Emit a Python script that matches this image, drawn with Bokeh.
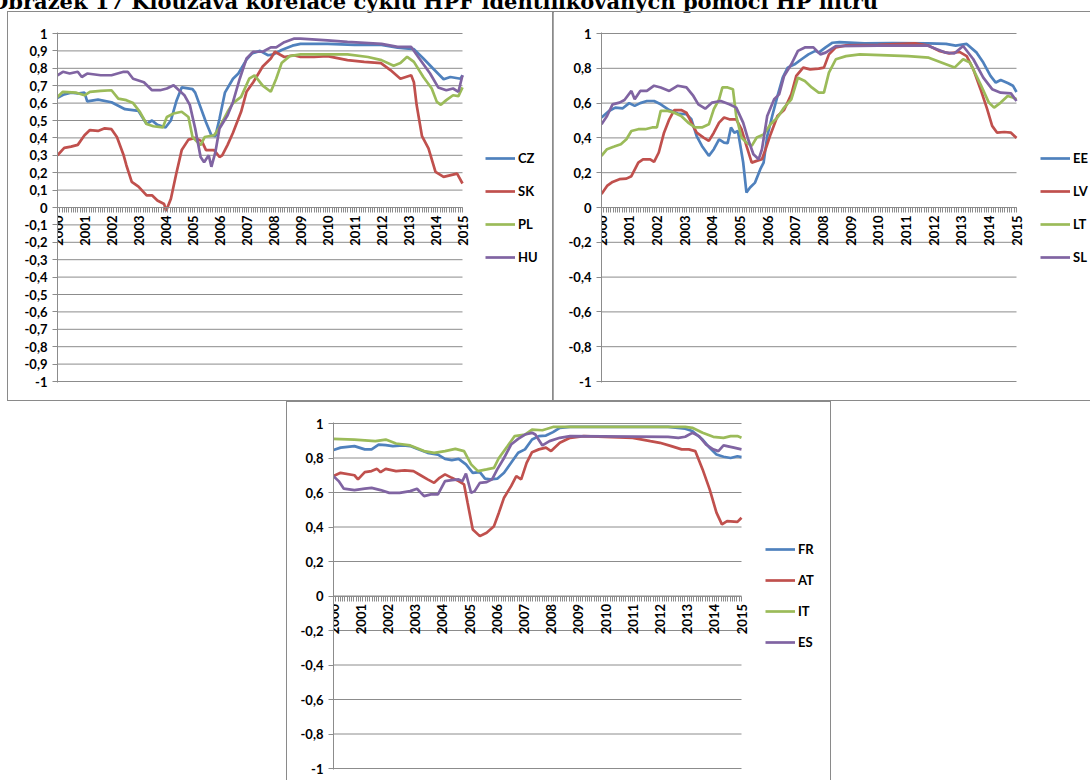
import numpy as np
from bokeh.plotting import figure
from bokeh.models import Range1d, FixedTicker, Legend, LegendItem, Div, Spacer
from bokeh.layouts import column, row
from bokeh.embed import file_html
from bokeh.resources import INLINE

TITLE = "Obrázek 17 Klouzavá korelace cyklu HPF identifikovaných pomocí HP filtru"

YEARS = list(range(2000, 2016))
YEAR_LABELS = [str(y) for y in YEARS]
Y_TICKS_A = [1, 0.9, 0.8, 0.7, 0.6, 0.5, 0.4, 0.3, 0.2, 0.1, 0, -0.1, -0.2, -0.3, -0.4, -0.5, -0.6, -0.7, -0.8, -0.9, -1]
Y_LABELS_A = ["1", "0,9", "0,8", "0,7", "0,6", "0,5", "0,4", "0,3", "0,2", "0,1", "0", "-0,1", "-0,2", "-0,3", "-0,4",
              "-0,5", "-0,6", "-0,7", "-0,8", "-0,9", "-1"]
Y_TICKS_B = [1, 0.8, 0.6, 0.4, 0.2, 0, -0.2, -0.4, -0.6, -0.8, -1]
Y_LABELS_B = ["1", "0,8", "0,6", "0,4", "0,2", "0", "-0,2", "-0,4", "-0,6", "-0,8", "-1"]

COLORS = ["#4F81BD", "#C0504D", "#9BBB59", "#8064A2"]

# ---------------- panel 1 ----------------
CZ_t = [2000.0, 2000.25, 2000.5, 2000.75, 2001.0, 2001.1, 2001.5, 2002.0, 2002.5, 2003.0, 2003.3, 2003.5, 2003.7,
        2004.0, 2004.2, 2004.4, 2004.6, 2005.0, 2005.1, 2005.5, 2005.7, 2005.85, 2006.0, 2006.2, 2006.5, 2006.7,
        2007.0, 2007.2, 2007.5, 2007.8, 2008.0, 2008.3, 2008.7, 2009.0, 2010.0, 2011.0, 2012.0, 2012.6, 2013.2,
        2013.55, 2013.9, 2014.3, 2014.55, 2014.93, 2015.0]
CZ_v = [0.63, 0.65, 0.66, 0.655, 0.66, 0.61, 0.62, 0.605, 0.565, 0.555, 0.48, 0.50, 0.475,
        0.46, 0.50, 0.61, 0.69, 0.68, 0.66, 0.49, 0.415, 0.41, 0.51, 0.66, 0.74, 0.77,
        0.85, 0.885, 0.90, 0.875, 0.88, 0.905, 0.93, 0.94, 0.94, 0.935, 0.935, 0.918, 0.91,
        0.856, 0.80, 0.737, 0.75, 0.74, 0.76]

SK_t = [2000.0, 2000.25, 2000.5, 2000.75, 2001.0, 2001.2, 2001.5, 2001.75, 2002.0, 2002.2, 2002.45, 2002.55, 2002.75,
        2003.0, 2003.3, 2003.5, 2003.7, 2003.95, 2004.02, 2004.2, 2004.4, 2004.6, 2004.85, 2005.1, 2005.35, 2005.5,
        2005.8, 2006.0, 2006.1, 2006.3, 2006.5, 2006.8, 2007.0, 2007.25, 2007.6, 2007.9, 2008.05, 2008.4, 2008.75,
        2009.0, 2009.5, 2010.0, 2010.74, 2011.36, 2011.98, 2012.33, 2012.7, 2013.1, 2013.2, 2013.3, 2013.5, 2013.74,
        2014.0, 2014.3, 2014.8, 2015.0]
SK_v = [0.30, 0.343, 0.35, 0.36, 0.415, 0.445, 0.44, 0.455, 0.45, 0.405, 0.30, 0.243, 0.147,
        0.12, 0.07, 0.07, 0.04, 0.02, -0.02, 0.05, 0.195, 0.33, 0.39, 0.40, 0.38, 0.33,
        0.33, 0.29, 0.30, 0.36, 0.43, 0.55, 0.665, 0.72, 0.81, 0.856, 0.895, 0.865, 0.875,
        0.865, 0.865, 0.87, 0.847, 0.837, 0.83, 0.79, 0.74, 0.76, 0.72, 0.59, 0.41, 0.34,
        0.205, 0.176, 0.195, 0.138]

PL_t = [2000.0, 2000.2, 2000.7, 2001.0, 2001.2, 2001.6, 2002.0, 2002.25, 2002.55, 2002.8, 2003.05, 2003.3, 2003.55,
        2003.9, 2004.05, 2004.3, 2004.6, 2004.85, 2005.0, 2005.3, 2005.45, 2005.8, 2006.0, 2006.3, 2006.5, 2006.8,
        2007.1, 2007.3, 2007.6, 2007.9, 2008.1, 2008.3, 2008.6, 2009.0, 2010.74, 2011.5, 2012.0, 2012.45, 2012.7,
        2012.95, 2013.2, 2013.55, 2013.86, 2014.05, 2014.2, 2014.4, 2014.65, 2014.85, 2015.0]
PL_v = [0.635, 0.665, 0.66, 0.645, 0.665, 0.67, 0.674, 0.626, 0.617, 0.60, 0.55, 0.48, 0.467,
        0.46, 0.52, 0.54, 0.55, 0.52, 0.405, 0.358, 0.405, 0.415, 0.46, 0.55, 0.60, 0.636,
        0.74, 0.76, 0.70, 0.665, 0.74, 0.83, 0.87, 0.88, 0.88, 0.865, 0.847, 0.815, 0.83,
        0.866, 0.837, 0.75, 0.684, 0.607, 0.59, 0.617, 0.645, 0.64, 0.69]

HU_t = [2000.0, 2000.2, 2000.45, 2000.75, 2000.9, 2001.1, 2001.6, 2002.0, 2002.45, 2002.6, 2002.8, 2003.2, 2003.5,
        2003.8, 2004.05, 2004.3, 2004.5, 2004.7, 2004.9, 2005.1, 2005.3, 2005.43, 2005.6, 2005.7, 2005.85, 2006.0,
        2006.3, 2006.5, 2006.75, 2007.0, 2007.25, 2007.6, 2007.9, 2008.1, 2008.4, 2008.75, 2009.0, 2010.0, 2010.74,
        2012.0, 2012.6, 2013.1, 2013.4, 2013.8, 2014.1, 2014.4, 2014.65, 2014.85, 2015.0]
HU_v = [0.76, 0.78, 0.77, 0.78, 0.75, 0.77, 0.76, 0.76, 0.78, 0.78, 0.74, 0.72, 0.674,
        0.674, 0.684, 0.703, 0.674, 0.645, 0.59, 0.454, 0.29, 0.26, 0.30, 0.234, 0.32, 0.454,
        0.53, 0.607, 0.74, 0.856, 0.895, 0.895, 0.92, 0.92, 0.95, 0.97, 0.97, 0.96, 0.952,
        0.94, 0.923, 0.923, 0.856, 0.77, 0.69, 0.674, 0.684, 0.665, 0.76]

# ---------------- panel 2 ----------------
EE_t = [2000.0, 2000.27, 2000.5, 2000.77, 2001.0, 2001.2, 2001.4, 2001.64, 2001.9, 2002.14, 2002.45, 2002.76, 2003.07,
        2003.25, 2003.44, 2003.63, 2003.88, 2004.06, 2004.25, 2004.43, 2004.56, 2004.68, 2004.8, 2004.93, 2005.12,
        2005.24, 2005.37, 2005.55, 2005.74, 2005.86, 2005.99, 2006.17, 2006.36, 2006.55, 2006.73, 2006.98, 2007.23,
        2007.48, 2007.73, 2007.85, 2008.1, 2008.35, 2008.6, 2009.5, 2010.5, 2011.8, 2012.45, 2012.8, 2013.2, 2013.56,
        2013.8, 2014.06, 2014.25, 2014.43, 2014.7, 2014.87, 2015.0]
EE_v = [0.517, 0.555, 0.574, 0.57, 0.60, 0.584, 0.60, 0.612, 0.612, 0.593, 0.56, 0.54, 0.536,
        0.507, 0.41, 0.354, 0.297, 0.335, 0.392, 0.373, 0.37, 0.46, 0.43, 0.44, 0.26,
        0.086, 0.115, 0.143, 0.22, 0.258, 0.41, 0.526, 0.64, 0.746, 0.804, 0.823, 0.852,
        0.88, 0.90, 0.89, 0.92, 0.947, 0.95, 0.943, 0.945, 0.943, 0.94, 0.93, 0.94, 0.89,
        0.833, 0.756, 0.718, 0.733, 0.714, 0.70, 0.664]

LV_t = [2000.0, 2000.2, 2000.4, 2000.65, 2000.9, 2001.08, 2001.33, 2001.5, 2001.76, 2001.9, 2002.07, 2002.26, 2002.45,
        2002.63, 2002.88, 2003.07, 2003.25, 2003.44, 2003.69, 2003.88, 2004.06, 2004.25, 2004.43, 2004.62, 2004.87,
        2005.06, 2005.24, 2005.43, 2005.61, 2005.8, 2005.93, 2006.11, 2006.36, 2006.6, 2006.86, 2007.04, 2007.29,
        2007.54, 2007.85, 2008.04, 2008.22, 2008.47, 2008.84, 2010.0, 2011.33, 2011.83, 2012.2, 2012.57, 2012.94,
        2013.2, 2013.44, 2013.7, 2013.94, 2014.12, 2014.3, 2014.56, 2014.8, 2015.0]
LV_v = [0.077, 0.124, 0.147, 0.163, 0.166, 0.18, 0.258, 0.277, 0.277, 0.262, 0.316, 0.43, 0.507,
        0.56, 0.56, 0.545, 0.488, 0.43, 0.402, 0.383, 0.43, 0.488, 0.517, 0.507, 0.507,
        0.45, 0.354, 0.258, 0.268, 0.277, 0.335, 0.42, 0.526, 0.56, 0.65, 0.756, 0.804,
        0.794, 0.798, 0.804, 0.88, 0.92, 0.932, 0.935, 0.943, 0.93, 0.90, 0.886, 0.894,
        0.87, 0.794, 0.68, 0.565, 0.469, 0.43, 0.434, 0.43, 0.40]

LT_t = [2000.0, 2000.2, 2000.46, 2000.7, 2000.9, 2001.08, 2001.33, 2001.58, 2001.83, 2002.0, 2002.14, 2002.39, 2002.63,
        2002.88, 2003.13, 2003.38, 2003.63, 2003.88, 2004.06, 2004.25, 2004.37, 2004.56, 2004.75, 2004.87, 2005.06,
        2005.24, 2005.43, 2005.61, 2005.86, 2006.11, 2006.36, 2006.6, 2006.86, 2007.1, 2007.35, 2007.6, 2007.85,
        2008.04, 2008.22, 2008.47, 2008.84, 2009.34, 2011.08, 2011.83, 2012.45, 2012.76, 2013.07, 2013.32, 2013.7,
        2014.0, 2014.19, 2014.43, 2014.68, 2014.87, 2015.0]
LT_v = [0.297, 0.335, 0.35, 0.364, 0.392, 0.44, 0.45, 0.45, 0.46, 0.46, 0.555, 0.555, 0.545,
        0.526, 0.488, 0.46, 0.46, 0.478, 0.565, 0.622, 0.69, 0.69, 0.68, 0.526, 0.402,
        0.373, 0.354, 0.402, 0.42, 0.478, 0.517, 0.574, 0.622, 0.746, 0.727, 0.69, 0.66,
        0.66, 0.775, 0.852, 0.87, 0.88, 0.87, 0.861, 0.823, 0.804, 0.852, 0.833, 0.708,
        0.603, 0.574, 0.603, 0.641, 0.632, 0.622]

SL_t = [2000.0, 2000.2, 2000.4, 2000.65, 2000.83, 2001.08, 2001.2, 2001.4, 2001.64, 2001.9, 2002.14, 2002.45, 2002.76,
        2003.07, 2003.32, 2003.5, 2003.75, 2004.0, 2004.31, 2004.62, 2004.87, 2005.12, 2005.3, 2005.49, 2005.68,
        2005.8, 2005.99, 2006.24, 2006.42, 2006.6, 2006.86, 2007.1, 2007.35, 2007.66, 2007.91, 2008.1, 2008.47,
        2010.0, 2011.8, 2012.45, 2012.76, 2013.07, 2013.44, 2013.8, 2014.12, 2014.43, 2014.8, 2015.0]
SL_v = [0.478, 0.526, 0.593, 0.603, 0.618, 0.67, 0.622, 0.67, 0.67, 0.70, 0.69, 0.67, 0.70,
        0.69, 0.641, 0.593, 0.568, 0.603, 0.612, 0.593, 0.574, 0.488, 0.392, 0.306, 0.277,
        0.335, 0.526, 0.622, 0.65, 0.756, 0.823, 0.90, 0.92, 0.92, 0.88, 0.89, 0.928,
        0.93, 0.93, 0.89, 0.886, 0.928, 0.852, 0.746, 0.68, 0.66, 0.656, 0.612]

# ---------------- panel 3 ----------------
FR_t = [2000.0, 2000.26, 2000.77, 2001.15, 2001.4, 2001.66, 2001.92, 2002.18, 2002.56, 2002.82, 2003.07, 2003.46,
        2003.84, 2004.1, 2004.35, 2004.6, 2004.87, 2005.12, 2005.38, 2005.57, 2005.76, 2006.02, 2006.27, 2006.53,
        2006.79, 2007.04, 2007.3, 2007.55, 2007.81, 2008.07, 2008.32, 2008.7, 2012.3, 2012.93, 2013.19, 2013.57,
        2013.83, 2014.08, 2014.34, 2014.6, 2014.85, 2015.0]
FR_v = [0.846, 0.86, 0.869, 0.85, 0.85, 0.878, 0.875, 0.869, 0.873, 0.869, 0.853, 0.83,
        0.82, 0.795, 0.788, 0.795, 0.763, 0.714, 0.718, 0.68, 0.676, 0.68, 0.714, 0.772,
        0.83, 0.85, 0.907, 0.927, 0.93, 0.95, 0.975, 0.98, 0.98, 0.97, 0.956, 0.907,
        0.859, 0.82, 0.807, 0.80, 0.81, 0.805]

AT_t = [2000.0, 2000.26, 2000.77, 2000.9, 2001.15, 2001.4, 2001.6, 2001.73, 2001.92, 2002.3, 2002.62, 2002.94, 2003.2,
        2003.46, 2003.7, 2003.9, 2004.1, 2004.35, 2004.6, 2004.8, 2004.93, 2005.12, 2005.38, 2005.63, 2005.9, 2006.08,
        2006.27, 2006.53, 2006.72, 2006.9, 2007.1, 2007.3, 2007.55, 2007.81, 2008.0, 2008.32, 2008.7, 2009.2, 2011.0,
        2011.65, 2012.0, 2012.42, 2012.8, 2013.06, 2013.3, 2013.57, 2013.83, 2014.08, 2014.28, 2014.47, 2014.85, 2015.0]
AT_v = [0.695, 0.714, 0.70, 0.676, 0.718, 0.724, 0.737, 0.718, 0.737, 0.724, 0.728, 0.724, 0.70,
        0.676, 0.656, 0.685, 0.705, 0.685, 0.666, 0.647, 0.54, 0.386, 0.347, 0.367, 0.405, 0.483,
        0.57, 0.637, 0.695, 0.676, 0.772, 0.834, 0.85, 0.86, 0.84, 0.888, 0.917, 0.927, 0.917,
        0.898, 0.888, 0.869, 0.85, 0.85, 0.84, 0.734, 0.618, 0.483, 0.415, 0.434, 0.43, 0.454]

IT_t = [2000.0, 2000.77, 2001.54, 2001.92, 2002.3, 2002.82, 2003.33, 2003.7, 2004.1, 2004.48, 2004.8, 2005.06, 2005.31,
        2005.63, 2005.9, 2006.08, 2006.4, 2006.66, 2007.04, 2007.3, 2007.68, 2008.07, 2012.93, 2013.19, 2013.57,
        2013.96, 2014.34, 2014.6, 2014.85, 2015.0]
IT_v = [0.911, 0.907, 0.898, 0.907, 0.884, 0.873, 0.84, 0.83, 0.84, 0.853, 0.84, 0.763, 0.724,
        0.734, 0.743, 0.80, 0.869, 0.927, 0.936, 0.965, 0.961, 0.98, 0.98, 0.975, 0.946,
        0.923, 0.917, 0.927, 0.927, 0.917]

ES_t = [2000.0, 2000.19, 2000.38, 2000.77, 2001.15, 2001.4, 2001.73, 2002.05, 2002.43, 2002.82, 2003.07, 2003.33,
        2003.58, 2003.84, 2004.1, 2004.35, 2004.6, 2004.74, 2004.87, 2005.06, 2005.19, 2005.38, 2005.63, 2005.83,
        2006.02, 2006.27, 2006.53, 2006.79, 2007.04, 2007.3, 2007.42, 2007.68, 2007.94, 2008.32, 2008.7, 2012.3,
        2012.68, 2012.93, 2013.19, 2013.44, 2013.7, 2013.96, 2014.15, 2014.34, 2014.72, 2015.0]
ES_v = [0.695, 0.666, 0.622, 0.614, 0.622, 0.627, 0.614, 0.598, 0.598, 0.608, 0.622, 0.579,
        0.589, 0.589, 0.666, 0.672, 0.676, 0.666, 0.71, 0.598, 0.608, 0.656, 0.66, 0.676,
        0.734, 0.80, 0.878, 0.911, 0.936, 0.946, 0.936, 0.873, 0.898, 0.917, 0.927, 0.923,
        0.917, 0.923, 0.946, 0.927, 0.878, 0.85, 0.84, 0.873, 0.86, 0.85]

PANEL1 = [("CZ", CZ_t, CZ_v), ("SK", SK_t, SK_v), ("PL", PL_t, PL_v), ("HU", HU_t, HU_v)]
PANEL2 = [("EE", EE_t, EE_v), ("LV", LV_t, LV_v), ("LT", LT_t, LT_v), ("SL", SL_t, SL_v)]
PANEL3 = [("FR", FR_t, FR_v), ("AT", AT_t, AT_v), ("IT", IT_t, IT_v), ("ES", ES_t, ES_v)]

FONT = "Lato"
GRID = "#8c8c8c"


def make_panel(series, y_ticks, y_labels, plot_w, extra_w, fh, px_per_two, bl, bt, bb,
               legend_x, legend_y, legend_spacing, shadow):
    # plot area (2000-2015) is plot_w px wide; the frame is extended by extra_w px to host the legend
    x0, x1 = YEARS[0], YEARS[-1]
    x_end = x0 + (x1 - x0) * (plot_w + extra_w) / plot_w
    pad = fh / px_per_two
    p = figure(frame_width=plot_w + extra_w, frame_height=fh, output_backend="svg", toolbar_location=None,
               x_range=Range1d(x0, x_end), y_range=Range1d(-pad, pad),
               min_border_left=bl, min_border_right=0, min_border_top=bt, min_border_bottom=bb)
    p.outline_line_color = None
    p.background_fill_color = "white"
    p.border_fill_color = "white"
    p.styles = {"box-shadow": shadow}

    # horizontal gridlines, only across the plot area
    p.xgrid.grid_line_color = None
    p.ygrid.grid_line_color = None
    p.segment(x0=[x0] * len(y_ticks), x1=[x1] * len(y_ticks), y0=y_ticks, y1=y_ticks,
              line_color=GRID, line_width=1)

    # y axis
    ya = p.yaxis[0]
    ya.ticker = FixedTicker(ticks=y_ticks, minor_ticks=[])
    ya.major_label_overrides = {t: l for t, l in zip(y_ticks, y_labels)}
    ya.axis_line_color = GRID
    ya.major_tick_line_color = GRID
    ya.major_tick_out = 5
    ya.major_tick_in = 0
    ya.minor_tick_line_color = None
    ya.major_label_standoff = 5
    ya.major_label_text_font = FONT
    ya.major_label_text_font_style = "bold"
    ya.major_label_text_font_size = "13px"
    ya.major_label_text_color = "black"

    # x axis sitting on the zero line
    xa = p.xaxis[0]
    xa.fixed_location = 0
    xa.bounds = (x0, x1)
    months = [y + m / 12 for y in YEARS[:-1] for m in range(1, 12)]
    xa.ticker = FixedTicker(ticks=YEARS, minor_ticks=months)
    xa.major_label_overrides = {y: l for y, l in zip(YEARS, YEAR_LABELS)}
    xa.major_label_orientation = np.pi / 2
    xa.axis_line_color = GRID
    xa.major_tick_line_color = GRID
    xa.minor_tick_line_color = GRID
    xa.major_tick_out = 5
    xa.major_tick_in = 0
    xa.minor_tick_out = 5
    xa.minor_tick_in = 0
    xa.major_label_standoff = 3
    xa.major_label_text_font = FONT
    xa.major_label_text_font_style = "bold"
    xa.major_label_text_font_size = "13px"
    xa.major_label_text_color = "black"

    items = []
    for (name, t, v), c in zip(series, COLORS):
        r = p.line(t, v, line_color=c, line_width=2.7)
        items.append(LegendItem(label=name, renderers=[r]))
    leg = Legend(items=items, location=(legend_x, legend_y))
    leg.border_line_color = None
    leg.background_fill_alpha = 0
    leg.padding = 0
    leg.margin = 0
    leg.spacing = legend_spacing
    leg.label_height = 20
    leg.glyph_height = 20
    leg.glyph_width = 30
    leg.label_standoff = 3
    leg.label_text_font = FONT
    leg.label_text_font_style = "bold"
    leg.label_text_font_size = "13px"
    leg.label_text_color = "black"
    p.add_layout(leg)
    return p


SHADOW = "0 0 0 1px #8a8a8a"
p1 = make_panel(PANEL1, Y_TICKS_A, Y_LABELS_A, 405, 91, 350, 348, 49, 20, 18, 428, 115, 13, SHADOW)
p2 = make_panel(PANEL2, Y_TICKS_B, Y_LABELS_B, 415, 74, 350, 348, 48, 20, 18, 439, 115, 13, SHADOW)
p3 = make_panel(PANEL3, Y_TICKS_B, Y_LABELS_B, 408, 89, 347, 345, 46, 20, 13, 432, 117, 11, SHADOW)

title_html = ('<div style="position:relative; top:-14px; left:-23px; white-space:nowrap; '
              'font-family:\'DejaVu Serif\', serif; font-weight:bold; font-size:21px; line-height:22px; '
              'color:black;">' + TITLE + '</div>')
title = Div(text=title_html, width=1070, height=2, styles={"overflow": "visible"})

body = column(title, row(p1, p2), Spacer(height=2), row(Spacer(width=279, height=380), p3))
layout = row(Spacer(width=8, height=10), body)

open("out.html", "w").write(file_html(layout, INLINE))
